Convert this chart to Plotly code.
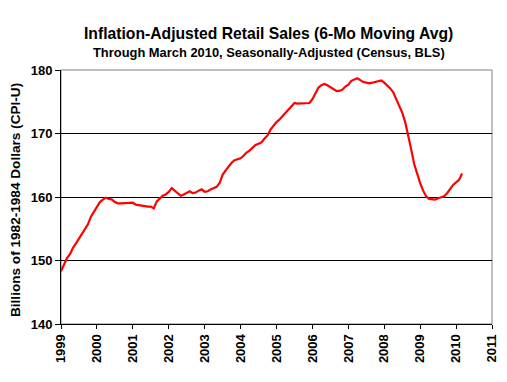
import plotly.graph_objects as go

years = [1999, 2000, 2001, 2002, 2003, 2004, 2005, 2006, 2007, 2008, 2009, 2010]
sales_1999 = [148.3, 149.5, 150.4, 151.0, 152.0, 152.7, 153.5, 154.2, 155.0, 155.7, 156.9, 157.6]
sales_2000 = [158.4, 159.2, 159.6, 159.9, 159.7, 159.6, 159.2, 159.0, 159.0, 159.0, 159.0, 159.1]
sales_2001 = [159.1, 158.8, 158.7, 158.7, 158.6, 158.5, 158.5, 158.2, 159.3, 159.7, 160.2, 160.4]
sales_2002 = [160.8, 161.4, 161.0, 160.5, 160.2, 160.4, 160.6, 160.9, 160.6, 160.7, 161.0, 161.2]
sales_2003 = [160.8, 160.9, 161.2, 161.4, 161.6, 162.2, 163.5, 164.2, 164.8, 165.4, 165.8, 165.9]
sales_2004 = [166.1, 166.5, 167.0, 167.3, 167.7, 168.2, 168.4, 168.6, 169.2, 169.7, 170.6, 171.2]
sales_2005 = [171.8, 172.2, 172.7, 173.2, 173.8, 174.3, 174.8, 174.7, 174.7, 174.8, 174.7, 174.8]
sales_2006 = [175.4, 176.3, 177.2, 177.6, 177.8, 177.6, 177.3, 177.0, 176.7, 176.7, 176.9, 177.4]
sales_2007 = [177.7, 178.3, 178.5, 178.7, 178.4, 178.1, 178.0, 177.9, 178.0, 178.1, 178.3, 178.35]
sales_2008 = [178.0, 177.6, 177.1, 176.5, 175.5, 174.5, 173.3, 171.8, 169.8, 167.5, 165.2, 163.5]
sales_2009 = [162.2, 161.0, 160.1, 159.7, 159.6, 159.6, 159.8, 160.0, 160.1, 160.6, 161.2, 161.9]
sales_2010 = [162.3, 162.7, 163.7]

by_year = [sales_1999, sales_2000, sales_2001, sales_2002, sales_2003, sales_2004,
           sales_2005, sales_2006, sales_2007, sales_2008, sales_2009, sales_2010]

x_vals, y_vals = [], []
for yr, vals in zip(years, by_year):
    for m, v in enumerate(vals):
        x_vals.append(yr + m / 12.0)
        y_vals.append(v)

tick_years = list(range(1999, 2012))
y_ticks = [140, 150, 160, 170, 180]

font_fam = "Arial, Liberation Sans, sans-serif"

fig = go.Figure()
fig.add_trace(go.Scatter(x=x_vals, y=y_vals, mode="lines",
                         line=dict(color="#FF0000", width=2.2), hoverinfo="skip"))

# page body has an 8px default margin; compensate so the plot lands where the reference has it
fig.update_layout(
    width=499, height=374,
    margin=dict(l=53, r=15, t=62, b=58, autoexpand=False),
    paper_bgcolor="white", plot_bgcolor="white",
    showlegend=False,
    font=dict(family=font_fam, color="black"),
    shapes=[dict(type="rect", xref="paper", yref="paper", x0=0, y0=0, x1=1, y1=1,
                 line=dict(color="#808080", width=1), layer="below")],
    annotations=[
        dict(text="<b>Inflation-Adjusted Retail Sales (6-Mo Moving Avg)</b>",
             xref="paper", yref="paper", x=(268 - 61) / 431, y=1 + (70 - 33) / 254,
             xanchor="center", yanchor="middle", showarrow=False,
             font=dict(size=15.7, family=font_fam, color="black")),
        dict(text="<b>Through March 2010, Seasonally-Adjusted (Census, BLS)</b>",
             xref="paper", yref="paper", x=(269 - 61) / 431, y=1 + (70 - 53) / 254,
             xanchor="center", yanchor="middle", showarrow=False,
             font=dict(size=12.9, family=font_fam, color="black")),
        dict(text="<b>Billions of 1982-1984 Dollars (CPI-U)</b>",
             xref="paper", yref="paper", x=(15 - 61) / 431, y=(324 - 200) / 254,
             xanchor="center", yanchor="middle", showarrow=False, textangle=-90,
             font=dict(size=13.6, family=font_fam, color="black")),
    ],
)

fig.update_xaxes(range=[1999, 2011], tickvals=tick_years,
                 ticktext=["<b>%d</b>" % t for t in tick_years],
                 tickangle=-90, showgrid=False, zeroline=False, automargin=False,
                 showline=True, linecolor="black", linewidth=1,
                 ticks="outside", ticklen=4, tickcolor="black",
                 tickfont=dict(size=13, family=font_fam, color="black"))
fig.update_yaxes(range=[140, 180], tickvals=y_ticks,
                 ticktext=["<b>%d</b>" % t for t in y_ticks],
                 showgrid=True, gridcolor="black", gridwidth=1, zeroline=False,
                 automargin=False,
                 showline=True, linecolor="black", linewidth=1,
                 ticks="outside", ticklen=5, tickcolor="black",
                 tickfont=dict(size=13, family=font_fam, color="black"))

fig.write_html("out.html")
